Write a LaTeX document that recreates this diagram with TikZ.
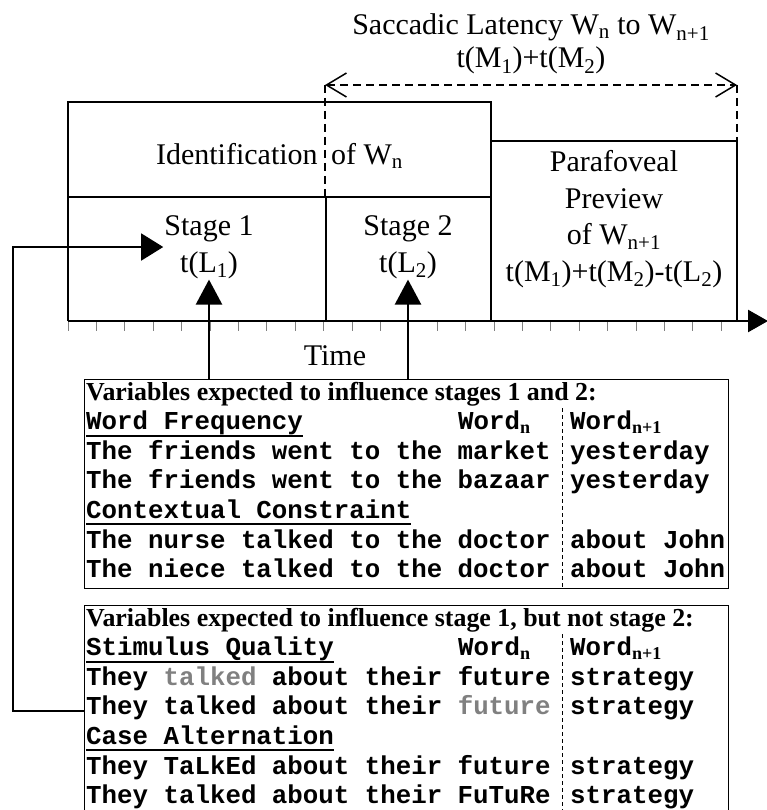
\documentclass[tikz,border=0pt]{standalone}
\usepackage{fontspec}
\setmainfont{Liberation Serif}
\setmonofont{Liberation Mono}
\usetikzlibrary{arrows.meta,calc}
\definecolor{dimword}{gray}{0.5}
\newlength{\hdwd}
\newcommand{\wsub}[1]{\textsubscript{\rmfamily #1}}
\newcommand{\headul}[1]{\settowidth{\hdwd}{#1}\rlap{\rule[-7pt]{\hdwd}{2pt}}#1}
\newcommand{\dimw}[1]{\textcolor{dimword}{#1}}
\tikzset{%
  tframe/.style    = {line width=2pt},%
  bigtxt/.style    = {font=\fontsize{30}{36.5}\selectfont, align=center, inner sep=1pt},%
  vbox/.style      = {draw, line width=1.4pt, anchor=north west,%
                      minimum width=644pt, inner sep=0pt},%
  rowtxt/.style    = {anchor=base west, inner sep=0pt,%
                      font=\fontsize{25.8}{29}\selectfont\ttfamily\bfseries},%
  headtxt/.style   = {anchor=base west, inner sep=0pt,%
                      font=\fontsize{25.9}{29}\selectfont\bfseries},%
  colsep/.style    = {dash pattern=on 4pt off 3pt, line width=0.8pt},%
  feedarrow/.style = {line width=2.5pt, -{Triangle[length=25pt,width=26pt]}},%
  loopline/.style  = {line width=1.4pt, -{Triangle[length=22pt,width=27pt]}},%
  latency/.style   = {dash pattern=on 8pt off 5pt, line width=1.5pt},%
  tickmark/.style  = {draw=gray, line width=1pt}%
}

\begin{document}
\begin{tikzpicture}
[x=1pt,y=-1pt]
	\useasboundingbox (0,0) rectangle (767,810);
	\node[bigtxt, font=\fontsize{30}{33}\selectfont, anchor=base] (sacc) at (531,68)
		{Saccadic Latency W\textsubscript{n} to W\textsubscript{n+1}\\t(M\textsubscript{1})+t(M\textsubscript{2})};
	\coordinate (latL) at (325,85);
	\coordinate (latR) at (737,85);
	\draw[tframe] (68,321) -- (68,102) -- (491,102) -- (491,321);
	\draw[tframe] (68,197) -- (491,197);
	\draw[tframe] (326,197) -- (326,321);
	\draw[tframe] (491,141) -- (737,141) -- (737,321);
	\draw[latency, {Straight Barb[length=20pt,width=24pt]}-{Straight Barb[length=20pt,width=24pt]}] (latL) -- (latR);
	\draw[latency] (latL) -- (latL |- 0,197);
	\draw[latency] (latR) -- (latR |- 0,141);
	\node[bigtxt, anchor=base] (ident) at (279.5,165) {Identification\hspace{0.2em} of W\textsubscript{n}};
	\node[bigtxt, anchor=base] (sone) at (209,272) {Stage 1\\t(L\textsubscript{1})};
	\node[bigtxt, anchor=base] (stwo) at (408,272) {Stage 2\\t(L\textsubscript{2})};
	\node[bigtxt, anchor=base] (para) at (614,281)
		{Parafoveal\\Preview\\of W\textsubscript{n+1}\\t(M\textsubscript{1})+t(M\textsubscript{2})-t(L\textsubscript{2})};
	\foreach \k in {0,...,24} \draw[tickmark] (68+28.4*\k,321) -- ++(0,10);
	\draw[line width=2.5pt, -{Triangle[length=20pt,width=22pt]}] (68,321) -- (768,321);
	\node[bigtxt, anchor=base] (time) at (335,365) {Time};
	\node[vbox, minimum height=209pt] (varsA) at (84,379) {};
	\node[vbox, minimum height=240pt] (varsB) at (84,605) {};
	\node[headtxt] (hA) at (86,400) {Variables expected to influence stages 1 and 2:};
	\node[rowtxt] (a1) at (86,429.6) {\headul{Word Frequency}};
	\node[rowtxt] (a1n) at (458,429.6) {Word\wsub{n}};
	\node[rowtxt] (a1m) at (570,429.6) {Word\wsub{n+1}};
	\node[rowtxt] (a2) at (86,459.2) {The friends went to the market};
	\node[rowtxt] (a2m) at (570,459.2) {yesterday};
	\node[rowtxt] (a3) at (86,488.8) {The friends went to the bazaar};
	\node[rowtxt] (a3m) at (570,488.8) {yesterday};
	\node[rowtxt] (a4) at (86,518.4) {\headul{Contextual Constraint}};
	\node[rowtxt] (a5) at (86,548) {The nurse talked to the doctor};
	\node[rowtxt] (a5m) at (570,548) {about John};
	\node[rowtxt] (a6) at (86,577.6) {The niece talked to the doctor};
	\node[rowtxt] (a6m) at (570,577.6) {about John};
	\draw[colsep] (562,408) -- (562,0 |- varsA.south);
	\node[headtxt] (hB) at (86,626) {Variables expected to influence stage 1, but not stage 2:};
	\node[rowtxt] (b1) at (86,655.6) {\headul{Stimulus Quality}};
	\node[rowtxt] (b1n) at (458,655.6) {Word\wsub{n}};
	\node[rowtxt] (b1m) at (570,655.6) {Word\wsub{n+1}};
	\node[rowtxt] (b2) at (86,685.2) {They \dimw{talked} about their future};
	\node[rowtxt] (b2m) at (570,685.2) {strategy};
	\node[rowtxt] (b3) at (86,714.8) {They talked about their \dimw{future}};
	\node[rowtxt] (b3m) at (570,714.8) {strategy};
	\node[rowtxt] (b4) at (86,744.4) {\headul{Case Alternation}};
	\node[rowtxt] (b5) at (86,774) {They TaLkEd about their future};
	\node[rowtxt] (b5m) at (570,774) {strategy};
	\node[rowtxt] (b6) at (86,803.6) {They talked about their FuTuRe};
	\node[rowtxt] (b6m) at (570,803.6) {strategy};
	\draw[colsep] (562,634) -- (562,830);
	\draw[feedarrow] (sone.south |- varsA.north) -- (sone.south);
	\draw[feedarrow] (stwo.south |- varsA.north) -- (stwo.south);
	\coordinate (lside) at (13,0);
	\draw[loopline] (varsB.west |- 0,711) -| (lside |- sone.west) -- (sone.west);
\end{tikzpicture}
\end{document}
